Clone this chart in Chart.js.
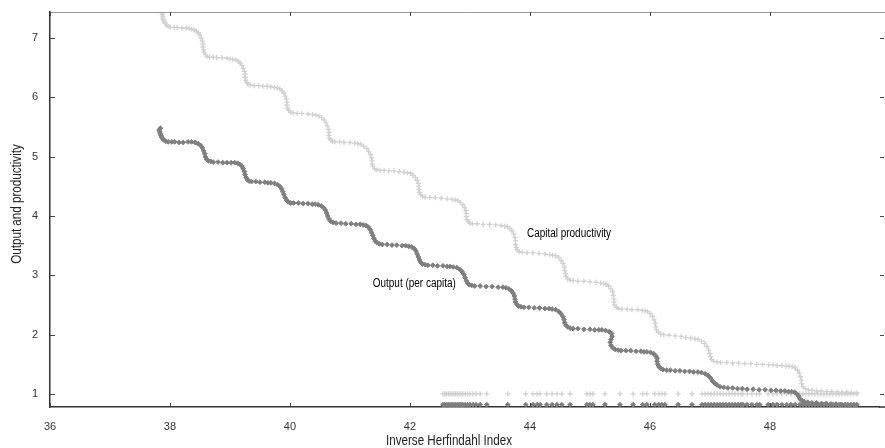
<!DOCTYPE html>
<html>
<head>
<meta charset="utf-8">
<script src="https://cdn.jsdelivr.net/npm/chart.js@4.4.0/dist/chart.umd.min.js"></script>
<style>
  html, body { margin: 0; padding: 0; background: #fff; }
  #wrap { width: 885px; height: 448px; }
</style>
</head>
<body>
<div id="wrap"><canvas id="grafico" width="885" height="448"></canvas></div>
<script>
// tick labels
const xTicks = [36, 38, 40, 42, 44, 46, 48];
const yTicks = [1, 2, 3, 4, 5, 6, 7];

// Capital productivity (light grey '+')
const capitalCurve = [
  [37.87,7.43],[37.87,7.40],[37.88,7.37],[37.88,7.34],[37.89,7.31],[37.90,7.28],[37.92,7.25],[37.94,7.22],[37.97,7.20],[38.00,7.19],
  [38.07,7.18],[38.12,7.18],[38.20,7.17],[38.27,7.17],[38.32,7.16],[38.36,7.15],
  [38.40,7.14],[38.44,7.12],[38.47,7.09],[38.50,7.05],[38.52,7.00],[38.54,6.95],[38.55,6.90],[38.55,6.85],[38.56,6.80],[38.57,6.76],[38.59,6.72],[38.62,6.69],[38.66,6.68],
  [38.72,6.68],[38.78,6.67],[38.87,6.67],[38.95,6.66],[39.00,6.65],[39.05,6.64],
  [39.10,6.63],[39.14,6.61],[39.17,6.58],[39.20,6.54],[39.22,6.49],[39.24,6.44],[39.25,6.39],[39.25,6.34],[39.26,6.29],[39.28,6.25],[39.30,6.22],[39.34,6.21],
  [39.40,6.20],[39.48,6.20],[39.55,6.19],[39.62,6.19],[39.68,6.18],[39.74,6.17],
  [39.79,6.16],[39.83,6.14],[39.87,6.11],[39.90,6.07],[39.92,6.02],[39.94,5.97],[39.95,5.92],[39.95,5.87],[39.96,5.82],[39.98,5.78],[40.01,5.75],[40.05,5.74],
  [40.12,5.73],[40.20,5.73],[40.30,5.72],[40.38,5.71],[40.43,5.70],
  [40.48,5.69],[40.53,5.66],[40.57,5.62],[40.60,5.57],[40.62,5.52],[40.64,5.46],[40.65,5.41],[40.65,5.36],[40.66,5.31],[40.68,5.28],[40.71,5.26],[40.75,5.25],
  [40.83,5.25],[40.90,5.24],[41.00,5.24],[41.08,5.23],[41.13,5.22],
  [41.18,5.21],[41.23,5.18],[41.28,5.14],[41.31,5.09],[41.34,5.04],[41.36,4.98],[41.37,4.93],[41.37,4.88],[41.38,4.84],[41.41,4.80],[41.45,4.78],[41.50,4.77],
  [41.57,4.77],[41.65,4.76],[41.73,4.76],[41.82,4.75],[41.90,4.74],[41.96,4.73],
  [42.01,4.72],[42.05,4.69],[42.09,4.65],[42.12,4.60],[42.14,4.55],[42.15,4.50],[42.15,4.45],[42.16,4.40],[42.18,4.36],[42.21,4.33],[42.25,4.32],
  [42.33,4.31],[42.42,4.31],[42.52,4.30],[42.62,4.29],[42.70,4.28],[42.76,4.27],
  [42.80,4.26],[42.84,4.23],[42.88,4.19],[42.91,4.14],[42.93,4.09],[42.94,4.04],[42.94,3.99],[42.95,3.94],[42.97,3.91],[43.00,3.88],[43.04,3.87],
  [43.12,3.87],[43.22,3.86],[43.33,3.86],[43.43,3.85],[43.52,3.84],[43.58,3.83],
  [43.62,3.82],[43.66,3.79],[43.70,3.75],[43.73,3.70],[43.75,3.64],[43.76,3.58],[43.76,3.52],[43.77,3.47],[43.79,3.43],[43.82,3.40],[43.87,3.39],
  [43.95,3.38],[44.05,3.38],[44.15,3.37],[44.25,3.36],[44.33,3.35],[44.38,3.34],
  [44.43,3.33],[44.48,3.30],[44.52,3.25],[44.55,3.20],[44.57,3.14],[44.58,3.08],[44.59,3.03],[44.60,2.98],[44.63,2.94],[44.67,2.92],[44.72,2.91],
  [44.80,2.90],[44.90,2.90],[45.00,2.89],[45.10,2.88],[45.18,2.87],[45.23,2.86],
  [45.27,2.85],[45.31,2.82],[45.35,2.77],[45.38,2.72],[45.39,2.66],[45.40,2.60],[45.40,2.55],[45.41,2.50],[45.44,2.46],[45.48,2.44],[45.53,2.43],
  [45.62,2.43],[45.70,2.42],[45.80,2.42],[45.87,2.41],[45.92,2.40],
  [45.96,2.39],[46.00,2.36],[46.04,2.31],[46.07,2.25],[46.09,2.19],[46.10,2.13],[46.11,2.08],[46.14,2.04],[46.18,2.01],[46.23,2.00],
  [46.32,1.99],[46.42,1.98],[46.52,1.97],[46.60,1.95],[46.68,1.94],[46.75,1.93],
  [46.80,1.92],[46.86,1.89],[46.91,1.85],[46.95,1.80],[46.98,1.74],[47.00,1.68],[47.01,1.63],[47.03,1.58],[47.07,1.55],[47.12,1.54],[47.18,1.53],
  [47.28,1.53],[47.38,1.52],[47.48,1.52],[47.58,1.51],[47.68,1.51],[47.78,1.50],[47.88,1.50],[47.98,1.49],[48.05,1.49],[48.12,1.48],[48.20,1.48],[48.27,1.47],[48.32,1.47],
  [48.37,1.46],[48.42,1.44],[48.46,1.40],[48.49,1.35],[48.51,1.29],[48.52,1.23],[48.53,1.17],[48.55,1.12],[48.59,1.09],[48.64,1.07],[48.70,1.06],
  [48.78,1.05],[48.86,1.05],[48.95,1.04],[49.03,1.04],[49.12,1.03],[49.20,1.03],[49.28,1.03],[49.36,1.02],[49.44,1.02]
];

// Output (per capita) (dark grey)
const outputCurve = [
  [37.84,5.48],[37.82,5.45],[37.83,5.42],[37.84,5.39],[37.85,5.36],[37.86,5.33],[37.88,5.30],[37.90,5.28],[37.93,5.26],[37.97,5.25],
  [38.03,5.25],[38.08,5.25],[38.15,5.24],[38.22,5.24],
  [38.30,5.25],[38.36,5.25],[38.42,5.24],[38.47,5.22],[38.51,5.19],[38.54,5.15],[38.56,5.10],[38.58,5.05],[38.59,5.00],[38.61,4.96],[38.64,4.93],[38.68,4.92],[38.72,4.91],
  [38.80,4.91],[38.88,4.90],[38.95,4.90],
  [39.02,4.90],[39.08,4.90],[39.13,4.89],[39.17,4.87],[39.20,4.84],[39.22,4.80],[39.24,4.75],[39.25,4.70],[39.27,4.65],[39.29,4.61],[39.32,4.59],[39.36,4.58],
  [39.43,4.58],[39.50,4.57],[39.58,4.57],[39.63,4.56],
  [39.68,4.56],[39.74,4.55],[39.79,4.53],[39.83,4.50],[39.86,4.46],[39.88,4.41],[39.90,4.36],[39.92,4.31],[39.94,4.27],[39.97,4.24],[40.01,4.22],[40.06,4.22],
  [40.14,4.22],[40.22,4.21],[40.30,4.21],[40.37,4.20],
  [40.42,4.20],[40.47,4.19],[40.52,4.17],[40.56,4.14],[40.59,4.10],[40.61,4.05],[40.63,4.00],[40.65,3.95],[40.68,3.91],[40.72,3.89],[40.77,3.88],
  [40.85,3.88],[40.93,3.87],[41.02,3.87],[41.10,3.86],[41.17,3.86],
  [41.22,3.85],[41.27,3.84],[41.31,3.81],[41.34,3.77],[41.36,3.72],[41.38,3.67],[41.40,3.62],[41.42,3.58],[41.45,3.55],[41.49,3.53],[41.54,3.52],
  [41.62,3.52],[41.70,3.51],[41.78,3.51],[41.87,3.50],[41.93,3.50],
  [41.98,3.49],[42.03,3.48],[42.07,3.45],[42.10,3.41],[42.12,3.36],[42.14,3.31],[42.16,3.26],[42.18,3.22],[42.21,3.19],[42.25,3.18],[42.30,3.17],
  [42.38,3.17],[42.46,3.16],[42.55,3.16],[42.62,3.15],[42.67,3.15],
  [42.72,3.14],[42.78,3.13],[42.83,3.10],[42.87,3.06],[42.90,3.01],[42.92,2.96],[42.94,2.91],[42.96,2.87],[42.99,2.84],[43.03,2.83],[43.08,2.82],
  [43.17,2.82],[43.27,2.81],[43.37,2.81],[43.47,2.80],[43.55,2.80],
  [43.60,2.79],[43.65,2.77],[43.69,2.74],[43.72,2.70],[43.74,2.65],[43.75,2.60],[43.76,2.55],[43.78,2.51],[43.81,2.48],[43.85,2.47],[43.90,2.46],
  [43.98,2.46],[44.07,2.45],[44.16,2.45],[44.25,2.44],[44.32,2.44],
  [44.37,2.43],[44.43,2.42],[44.48,2.39],[44.52,2.35],[44.55,2.30],[44.57,2.25],[44.58,2.20],[44.60,2.16],[44.63,2.13],[44.67,2.11],[44.72,2.10],
  [44.80,2.10],[44.90,2.09],[45.00,2.09],[45.08,2.08],[45.15,2.08],
  [45.20,2.08],[45.26,2.07],[45.32,2.05],[45.36,2.02],[45.37,1.97],[45.35,1.92],[45.34,1.87],[45.35,1.82],[45.38,1.78],[45.42,1.75],[45.47,1.74],[45.52,1.73],
  [45.60,1.73],[45.68,1.73],[45.77,1.72],[45.85,1.72],[45.90,1.71],
  [45.95,1.71],[46.01,1.70],[46.06,1.68],[46.10,1.64],[46.12,1.60],[46.12,1.55],[46.13,1.50],[46.15,1.46],[46.18,1.43],[46.22,1.41],[46.28,1.40],[46.34,1.40],
  [46.42,1.39],[46.50,1.39],[46.58,1.38],[46.66,1.38],[46.73,1.37],
  [46.80,1.37],[46.86,1.36],[46.92,1.34],[46.97,1.31],[47.01,1.27],[47.04,1.22],[47.08,1.18],[47.12,1.15],[47.17,1.12],[47.23,1.11],[47.30,1.10],
  [47.38,1.10],[47.46,1.09],[47.54,1.09],[47.62,1.08],[47.72,1.08],[47.82,1.07],[47.92,1.07],[48.02,1.06],[48.10,1.06],[48.18,1.05],[48.25,1.05],[48.31,1.04],
  [48.36,1.04],[48.41,1.03],[48.45,1.00],[48.48,0.96],[48.50,0.92],[48.53,0.89],[48.57,0.87],[48.63,0.86],[48.70,0.85],
  [48.78,0.85],[48.86,0.84],[48.94,0.84],[49.02,0.83],[49.10,0.83],[49.18,0.82],[49.26,0.82],[49.34,0.81],[49.42,0.81]
];

// scattered points along the bottom of the plot
const floorX = [
  42.55,42.58,42.61,42.64,42.67,42.70,42.73,42.76,42.79,42.82,42.85,42.88,42.92,42.96,43.00,43.05,43.10,43.17,
  43.28,43.63,43.93,44.05,44.12,44.17,44.28,44.37,44.45,44.53,44.67,44.95,45.00,45.05,45.25,45.50,45.72,45.88,45.95,
  46.08,46.15,46.20,46.25,46.47,46.70,
  46.87,46.92,46.97,47.02,47.07,47.12,47.17,47.22,47.27,47.32,47.37,47.42,47.47,47.52,47.55,
  47.62,47.70,47.78,47.83,47.97,48.05,48.12,48.20,48.28,48.35,48.42,
  48.50,48.55,48.60,48.65,48.70,48.75,48.80,48.85,48.90,48.95,49.00,49.05,49.10,49.15,49.20,49.25,49.30,49.35,49.40,49.45
];
const capitalFloor = 1.0;
const outputFloor = 0.82;

const notes = [
  { text: 'Capital productivity', x: 43.95, y: 3.71 },
  { text: 'Output (per capita)', x: 41.38, y: 2.855 }
];

const xTitle = 'Inverse Herfindahl Index';
const yTitle = 'Output and productivity';

const fonte = "'Liberation Sans', Arial, sans-serif";
const estreito = 0.83; // the original uses a narrow Helvetica

function pontos(lista) {
  return lista.map(p => ({ x: p[0], y: p[1] }));
}

const corClara = '#d0d0d0';
const corEscura = '#7f7f7f';

function textoEstreito(ctx, txt, x, y, align, rot) {
  ctx.save();
  ctx.translate(x, y);
  if (rot) ctx.rotate(rot);
  ctx.scale(estreito, 1);
  ctx.textAlign = align;
  ctx.fillText(txt, 0, 0);
  ctx.restore();
}

// ticks drawn inward, gnuplot style, frame edges and texts
const moldura = {
  id: 'moldura',
  afterDatasetsDraw(chart) {
    const { ctx, chartArea: a, scales } = chart;
    const borda = chart.width; // frame runs off the right edge of the picture
    ctx.save();
    ctx.lineWidth = 1;
    ctx.strokeStyle = '#999';
    ctx.beginPath();
    ctx.moveTo(a.left, a.top + 0.5);
    ctx.lineTo(borda, a.top + 0.5);
    ctx.stroke();

    ctx.strokeStyle = '#333';
    ctx.lineWidth = 1.5;
    ctx.beginPath();
    ctx.moveTo(a.right - 1, a.bottom);
    ctx.lineTo(borda, a.bottom);
    ctx.stroke();

    ctx.lineWidth = 1;
    ctx.strokeStyle = '#444';
    ctx.beginPath();
    xTicks.forEach(v => {
      const px = Math.round(scales.x.getPixelForValue(v)) + 0.5;
      ctx.moveTo(px, a.bottom);
      ctx.lineTo(px, a.bottom - 4);
      ctx.moveTo(px, a.top);
      ctx.lineTo(px, a.top + 4);
    });
    yTicks.forEach(v => {
      const py = Math.round(scales.y.getPixelForValue(v)) + 0.5;
      ctx.moveTo(a.left, py);
      ctx.lineTo(a.left + 5, py);
      ctx.moveTo(borda - 1, py);
      ctx.lineTo(borda - 5, py);
    });
    ctx.stroke();

    ctx.fillStyle = '#000';
    ctx.font = '12px ' + fonte;
    ctx.textBaseline = 'middle';
    notes.forEach(n => {
      textoEstreito(ctx, n.text, scales.x.getPixelForValue(n.x), scales.y.getPixelForValue(n.y), 'left', 0);
    });

    ctx.fillStyle = '#222';
    ctx.font = '14px ' + fonte;
    textoEstreito(ctx, xTitle, 449, 441, 'center', 0);
    textoEstreito(ctx, yTitle, 17, 204, 'center', -Math.PI / 2);
    ctx.restore();
  }
};

const ctx = document.getElementById('grafico').getContext('2d');

new Chart(ctx, {
  type: 'scatter',
  data: {
    datasets: [
      {
        label: 'Output (per capita)',
        data: pontos(outputCurve).concat(floorX.map(x => ({ x: x, y: outputFloor }))),
        pointStyle: 'rectRot',
        radius: 2.4,
        backgroundColor: corEscura,
        borderColor: corEscura,
        borderWidth: 1
      },
      {
        label: 'Capital productivity',
        data: pontos(capitalCurve).concat(floorX.map(x => ({ x: x, y: capitalFloor }))),
        pointStyle: 'cross',
        radius: 2.6,
        backgroundColor: corClara,
        borderColor: corClara,
        borderWidth: 1.3
      }
    ]
  },
  options: {
    responsive: false,
    animation: false,
    layout: { padding: { top: 12, right: 1, left: 0, bottom: 0 } },
    plugins: {
      legend: { display: false },
      tooltip: { enabled: false }
    },
    scales: {
      x: {
        type: 'linear',
        min: 36,
        max: 49.83,
        afterBuildTicks: s => { s.ticks = xTicks.map(v => ({ value: v })); },
        afterFit: s => { s.height = 41; s.paddingLeft = 0; s.paddingRight = 0; },
        grid: { display: false, drawTicks: false },
        border: { display: true, color: '#333', width: 1.5 },
        ticks: { color: '#333', padding: 13, font: { family: fonte, size: 11 } }
      },
      y: {
        type: 'linear',
        min: 0.78,
        max: 7.44,
        afterBuildTicks: s => { s.ticks = yTicks.map(v => ({ value: v })); },
        afterFit: s => { s.width = 50; s.paddingTop = 0; s.paddingBottom = 0; },
        grid: { display: false, drawTicks: false },
        border: { display: true, color: '#333', width: 1.5 },
        ticks: { color: '#333', padding: 12, font: { family: fonte, size: 11 } }
      }
    }
  },
  plugins: [moldura]
});
</script>
</body>
</html>
